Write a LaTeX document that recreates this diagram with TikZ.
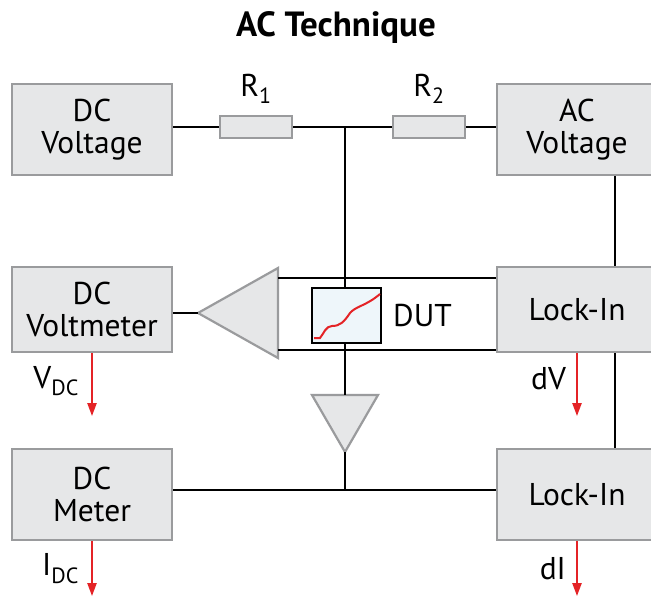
\documentclass[tikz,border=0pt]{standalone}
\usepackage{fontspec}
\setmainfont{PT Sans}
\usetikzlibrary{positioning,arrows.meta}
\definecolor{boxgray}{HTML}{E6E7E8}
\definecolor{edgegray}{HTML}{9A9B9D}
\definecolor{dutblue}{HTML}{EEF6FA}
\definecolor{sigred}{HTML}{E42326}
\tikzset{
  unit/.style={draw=edgegray,fill=boxgray,line width=2.2pt,minimum width=160pt,minimum height=91pt,align=center,font=\fontsize{31.5}{32}\selectfont},
  resistor/.style={draw=edgegray,fill=boxgray,line width=2pt,minimum width=72pt,minimum height=22pt},
  amp/.style={draw=edgegray,fill=boxgray,line width=2.2pt},
  wire/.style={line width=2.3pt},
  signal/.style={draw=sigred,line width=2.2pt,-{Triangle[length=13pt,width=9pt]}},
  lbl/.style={font=\fontsize{31.5}{32}\selectfont,inner sep=0pt}
}
\begin{document}
\begin{tikzpicture}[x=1pt,y=-1pt]
\useasboundingbox (0,0) rectangle (651,597);
\node[font=\bfseries\fontsize{35}{36}\selectfont] (title) at (336,28) {AC Technique};
% top row
\node[unit] (dcv) at (92,129.5) {DC\\Voltage};
\node[unit] (acv) at (577,129.5) {AC\\Voltage};
\node[resistor] (r1) at (256,127) {};
\node[resistor] (r2) at (429,127) {};
\node[lbl,above=11pt of r1] (r1lbl) {R\textsubscript{1}};
\node[lbl,above=11pt of r2] (r2lbl) {R\textsubscript{2}};
% middle row
\node[unit,minimum height=85pt] (dcvm) at (92,309.5) {DC\\Voltmeter};
\node[unit,minimum height=85pt] (li1) at (577,309.5) {Lock-In};
\node[draw,fill=dutblue,line width=2pt,minimum width=69pt,minimum height=55pt] (dut) at (346.5,315.5) {};
\node[lbl,right=11pt of dut] (dutlbl) {DUT};
% bottom row
\node[unit] (dcm) at (92,494.5) {DC\\Meter};
\node[unit] (li2) at (577,494.5) {Lock-In};
% amplifiers
\coordinate (amp1) at (198,313);
\coordinate (amp1t) at (278,278);
\coordinate (amp1b) at (278,350);
\draw[amp] (amp1) -- (278,268) -- (278,358) -- cycle;
\coordinate (amp2) at (345,395);
\coordinate (amp2o) at (345,452);
\draw[amp] (312,395) -- (378,395) -- (amp2o) -- cycle;
\coordinate (top) at (345,127);
\coordinate (bot) at (345,490);
\coordinate (rv) at (615,0);
% wiring
\draw[wire] (dcv.east |- r1) -- (r1.west) (r1.east) -- (r2.west) (r2.east) -- (acv.west |- r2);
\draw[wire] (top) -- (top |- dut.north) (amp2 |- dut.south) -- (amp2);
\draw[wire] (dcvm.east |- amp1) -- (amp1);
\draw[wire] (amp1t) -- (amp1t -| li1.west) (amp1b) -- (amp1b -| li1.west);
\draw[wire] (amp2o) -- (bot) (dcm.east |- bot) -- (li2.west |- bot);
\draw[wire] (acv.south -| rv) -- (li1.north -| rv) (li1.south -| rv) -- (li2.north -| rv);
% DUT curve
\draw[sigred,line width=2pt] (314,338) -- (320,338) .. controls (324,333) and (326,326) .. (332,326)
  .. controls (340,326) and (344,322) .. (350,313) .. controls (356,306) and (366,306) .. (380,294);
% outputs
\draw[signal] (dcvm.south) -- ++(0,63) node[lbl,pos=0.45,left=12pt] (vdc) {V\textsubscript{DC}};
\draw[signal] (li1.south) -- ++(0,63) node[lbl,pos=0.4,left=10pt] (dv) {dV};
\draw[signal] (dcm.south) -- ++(0,55) node[lbl,pos=0.5,left=12pt] (idc) {I\textsubscript{DC}};
\draw[signal] (li2.south) -- ++(0,55) node[lbl,pos=0.5,left=10pt] (di) {dI};
\end{tikzpicture}
\end{document}
